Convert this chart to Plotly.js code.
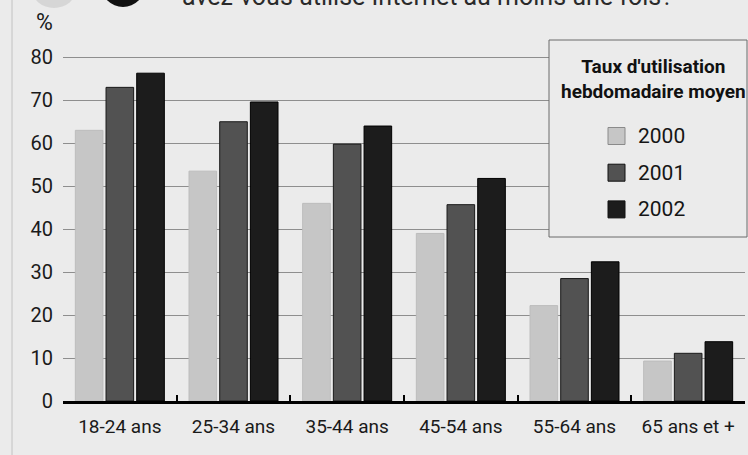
<!DOCTYPE html>
<html>
<head>
<meta charset="utf-8">
<script src="https://cdn.plot.ly/plotly-3.0.1.min.js"></script>
<style>
html,body{margin:0;padding:0;background:#ebebeb;}
#chart{width:748px;height:455px;}
</style>
</head>
<body>
<div id="chart"></div>
<script>
// ---- Data ----
const categories = ["18-24 ans", "25-34 ans", "35-44 ans", "45-54 ans", "55-64 ans", "65 ans et +"];
const years = ["2000", "2001", "2002"];
const values2000 = [63, 53.5, 46, 39, 22.2, 9.3];
const values2001 = [73, 65, 59.8, 45.7, 28.5, 11.1];
const values2002 = [76.3, 69.6, 64, 51.8, 32.4, 13.8];
const yTickVals = [0, 10, 20, 30, 40, 50, 60, 70, 80];
const legendTitle = "Taux d'utilisation<br>hebdomadaire moyen";
const topText = "avez-vous utilisé Internet au moins une fois?";
const unitLabel = "%";

// ---- Styles ----
const FONT = "Roboto, 'Liberation Sans', sans-serif";
const fills = ["#c6c6c6", "#525252", "#1c1c1c"];
const edges = ["#bcbcbc", "#1a1a1a", "#000000"];
const series = [values2000, values2001, values2002];

const W = 748, H = 455;
const M = {l: 63, r: 3, t: 53, b: 54};
const PW = W - M.l - M.r, PH = H - M.t - M.b;
const px = x => (x - M.l) / PW;
const py = y => (H - M.b - y) / PH;

const traces = series.map((vals, i) => ({
  type: "bar",
  name: years[i],
  x: categories,
  y: vals,
  marker: {color: fills[i], line: {color: edges[i], width: 1}},
  hoverinfo: "skip"
}));

const shapes = [
  {type: "line", xref: "paper", yref: "paper", x0: px(12), x1: px(12), y0: py(H), y1: py(0),
   line: {color: "#c2c2c2", width: 1}},
  {type: "circle", xref: "paper", yref: "paper", x0: px(101), x1: px(145), y0: py(7), y1: py(-37),
   fillcolor: "#111", line: {width: 0}},
  {type: "circle", xref: "paper", yref: "paper", x0: px(32), x1: px(76), y0: py(8), y1: py(-30),
   fillcolor: "#d6d6d6", line: {width: 0}},
  {type: "rect", xref: "paper", yref: "paper", x0: px(549), x1: px(747), y0: py(237), y1: py(40),
   fillcolor: "#ebebeb", line: {color: "#6a6a6a", width: 1}, layer: "above"}
];

const annotations = [
  {xref: "paper", yref: "paper", x: px(180), y: py(13), xanchor: "left", yanchor: "bottom",
   text: topText, showarrow: false, font: {family: FONT, size: 25, color: "#2a2a2a"}},
  {xref: "paper", yref: "paper", x: px(44), y: py(23), xanchor: "center", yanchor: "middle",
   text: unitLabel, showarrow: false, font: {family: FONT, size: 23, color: "#1a1a1a"}},
  {xref: "paper", yref: "paper", x: px(653), y: py(78.5), xanchor: "center", yanchor: "middle",
   text: "<b>" + legendTitle.replace("<br>", "</b><br><b>") + "</b>", showarrow: false,
   font: {family: FONT, size: 19, color: "#111"}}
];

const legendY0 = 136, legendStep = 36.7;
years.forEach((yr, i) => {
  const cy = legendY0 + i * legendStep;
  shapes.push({type: "rect", xref: "paper", yref: "paper",
    x0: px(608), x1: px(625), y0: py(cy + 8.5), y1: py(cy - 8.5),
    fillcolor: fills[i], line: {color: i === 0 ? "#8a8a8a" : "#111", width: 1}, layer: "above"});
  annotations.push({xref: "paper", yref: "paper", x: px(636), y: py(cy), xanchor: "left", yanchor: "middle",
    text: yr, showarrow: false, font: {family: FONT, size: 21, color: "#151515"}});
});

const layout = {
  width: W, height: H,
  margin: M,
  paper_bgcolor: "#ebebeb",
  plot_bgcolor: "#ebebeb",
  showlegend: false,
  barmode: "group",
  bargap: 0.19,
  bargroupgap: 0.1,
  font: {family: FONT, size: 20, color: "#1a1a1a"},
  xaxis: {
    type: "category",
    showgrid: false,
    showline: true, linecolor: "#000", linewidth: 3,
    ticks: "inside", tickson: "boundaries", ticklen: 6, tickwidth: 2, tickcolor: "#000",
    tickangle: 0,
    tickfont: {family: FONT, size: 19, color: "#1a1a1a"},
    ticklabelstandoff: 6,
    zeroline: false, fixedrange: true
  },
  yaxis: {
    range: [0, 81],
    tickvals: yTickVals,
    showgrid: true, gridcolor: "#8e8e8e", gridwidth: 1,
    zeroline: false, showline: false,
    ticks: "",
    tickfont: {family: FONT, size: 20, color: "#1a1a1a"},
    ticklabelstandoff: 9,
    fixedrange: true
  },
  shapes: shapes,
  annotations: annotations
};

Plotly.newPlot("chart", traces, layout, {displayModeBar: false, staticPlot: true});
</script>
</body>
</html>
